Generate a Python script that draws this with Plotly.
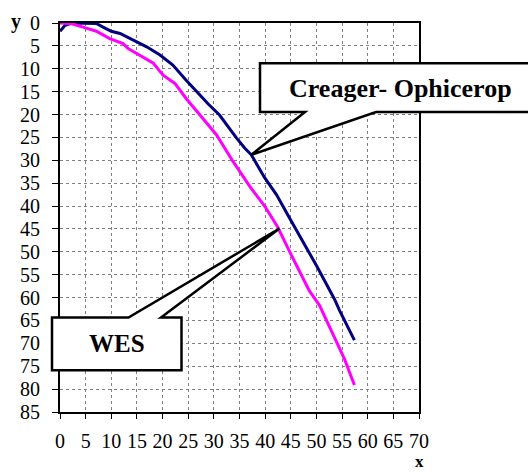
import plotly.graph_objects as go

# ---- data ----
creager_x = [0, 1, 2.3, 5, 7.1, 8.4, 10, 11.7, 14.3, 16.9, 19.5, 22, 24.6, 27.2, 29, 31.1,
             33, 34.4, 36, 37.3, 39.9, 42.2, 44.7, 46.5, 48.6, 50, 51.6, 53.5, 54.5, 56, 57.4]
creager_y = [1.8, 0.5, 0, 0, 0.1, 0.9, 1.8, 2.3, 3.8, 5.2, 7.0, 9.2, 12.5, 15.7, 17.8, 20.1,
             23, 25.1, 27.3, 28.8, 33.8, 37.5, 42.5, 46, 50.3, 53, 56.3, 60.3, 62.8, 66, 69.3]

wes_x = [0, 2.3, 4.5, 7.1, 9.7, 12.3, 13.3, 16.2, 18.2, 20.1, 22.4, 24.6, 27.2, 30.5, 33.7,
         37, 39.9, 42.5, 44.7, 47.3, 48.6, 50.6, 53.2, 55.5, 57.4]
wes_y = [0, 0.15, 0.9, 1.8, 3.4, 4.5, 5.6, 7.4, 8.8, 11.4, 13.2, 16.5, 20, 24.4, 30.2,
         35.7, 40, 44.7, 49.8, 55.6, 58.5, 61.7, 67.9, 73.5, 79.1]

x_ticks = list(range(0, 71, 5))
y_ticks = list(range(0, 86, 5))
X_RANGE = [0, 70]
Y_RANGE = [85, 0]

# callout anchor points (data coords)
creager_tip = (37.3, 28.8)
wes_tip = (42.8, 44.9)

# ---- layout geometry ----
W, H = 528, 473
ML, MR, MT, MB = 60, 109, 21, 61
PW, PH = W - ML - MR, H - MT - MB
FONT = "Liberation Serif, Times New Roman, serif"


def px(xp):
    return (xp - ML) / PW


def py(yp):
    return (H - MB - yp) / PH


def dx(x):
    return (x - X_RANGE[0]) / (X_RANGE[1] - X_RANGE[0])


def dy(y):
    return (Y_RANGE[0] - y) / (Y_RANGE[0] - Y_RANGE[1])


fig = go.Figure()
fig.add_trace(go.Scatter(x=creager_x, y=creager_y, mode="lines",
                         line=dict(color="#000080", width=3), showlegend=False))
fig.add_trace(go.Scatter(x=wes_x, y=wes_y, mode="lines",
                         line=dict(color="#FF00FF", width=3), showlegend=False))

# Creager callout: box with wedge on bottom edge
bl, bt, br, bb = 260, 61.5, 531, 110.5
wl, wr = 305, 376
tx, ty = dx(creager_tip[0]), dy(creager_tip[1])
path1 = (f"M {px(bl)},{py(bt)} L {px(br)},{py(bt)} L {px(br)},{py(bb)} "
         f"L {px(wr)},{py(bb)} L {tx},{ty} L {px(wl)},{py(bb)} L {px(bl)},{py(bb)} Z")

# WES callout: box with wedge on top edge
cl, ct, cr, cb = 52, 317, 181.5, 370
vl, vr = 128.5, 161
ux, uy = dx(wes_tip[0]), dy(wes_tip[1])
path2 = (f"M {px(cl)},{py(ct)} L {px(vl)},{py(ct)} L {ux},{uy} L {px(vr)},{py(ct)} "
         f"L {px(cr)},{py(ct)} L {px(cr)},{py(cb)} L {px(cl)},{py(cb)} Z")

shapes = [
    dict(type="path", path=path1, xref="paper", yref="paper", fillcolor="white",
         line=dict(color="black", width=2.5), layer="above"),
    dict(type="path", path=path2, xref="paper", yref="paper", fillcolor="white",
         line=dict(color="black", width=2.5), layer="above"),
]

annotations = [
    dict(text="<b>Creager- Ophicerop</b>", x=px(400), y=py(86.5), xref="paper", yref="paper",
         showarrow=False, font=dict(family=FONT, size=26, color="black"),
         xanchor="center", yanchor="middle"),
    dict(text="<b>WES</b>", x=px(117), y=py(343), xref="paper", yref="paper",
         showarrow=False, font=dict(family=FONT, size=25, color="black"),
         xanchor="center", yanchor="middle"),
    dict(text="<b>y</b>", x=px(16), y=py(19), xref="paper", yref="paper",
         showarrow=False, font=dict(family=FONT, size=20, color="black"),
         xanchor="center", yanchor="middle"),
    dict(text="<b>x</b>", x=px(419), y=py(462), xref="paper", yref="paper",
         showarrow=False, font=dict(family=FONT, size=17, color="black"),
         xanchor="center", yanchor="middle"),
]

fig.update_layout(
    width=W, height=H,
    margin=dict(l=ML, r=MR, t=MT, b=MB, pad=0),
    paper_bgcolor="white", plot_bgcolor="white",
    font=dict(family=FONT, size=20, color="black"),
    shapes=shapes, annotations=annotations,
    showlegend=False,
)
fig.update_xaxes(range=X_RANGE, tickmode="array", tickvals=x_ticks,
                 ticktext=[str(v) for v in x_ticks],
                 showgrid=True, gridcolor="#808080", griddash="dot", gridwidth=1,
                 showline=True, linecolor="black", linewidth=2, mirror=True,
                 ticks="outside", ticklen=5, tickcolor="black", tickwidth=1,
                 ticklabelstandoff=5, zeroline=False,
                 tickfont=dict(family=FONT, size=20, color="black"))
fig.update_yaxes(range=Y_RANGE, tickmode="array", tickvals=y_ticks,
                 ticktext=[str(v) for v in y_ticks],
                 showgrid=True, gridcolor="#808080", griddash="dot", gridwidth=1,
                 showline=True, linecolor="black", linewidth=2, mirror=True,
                 ticks="outside", ticklen=6, tickcolor="black", tickwidth=1,
                 ticklabelstandoff=8, zeroline=False,
                 tickfont=dict(family=FONT, size=20, color="black"))

fig.write_html("out.html")
